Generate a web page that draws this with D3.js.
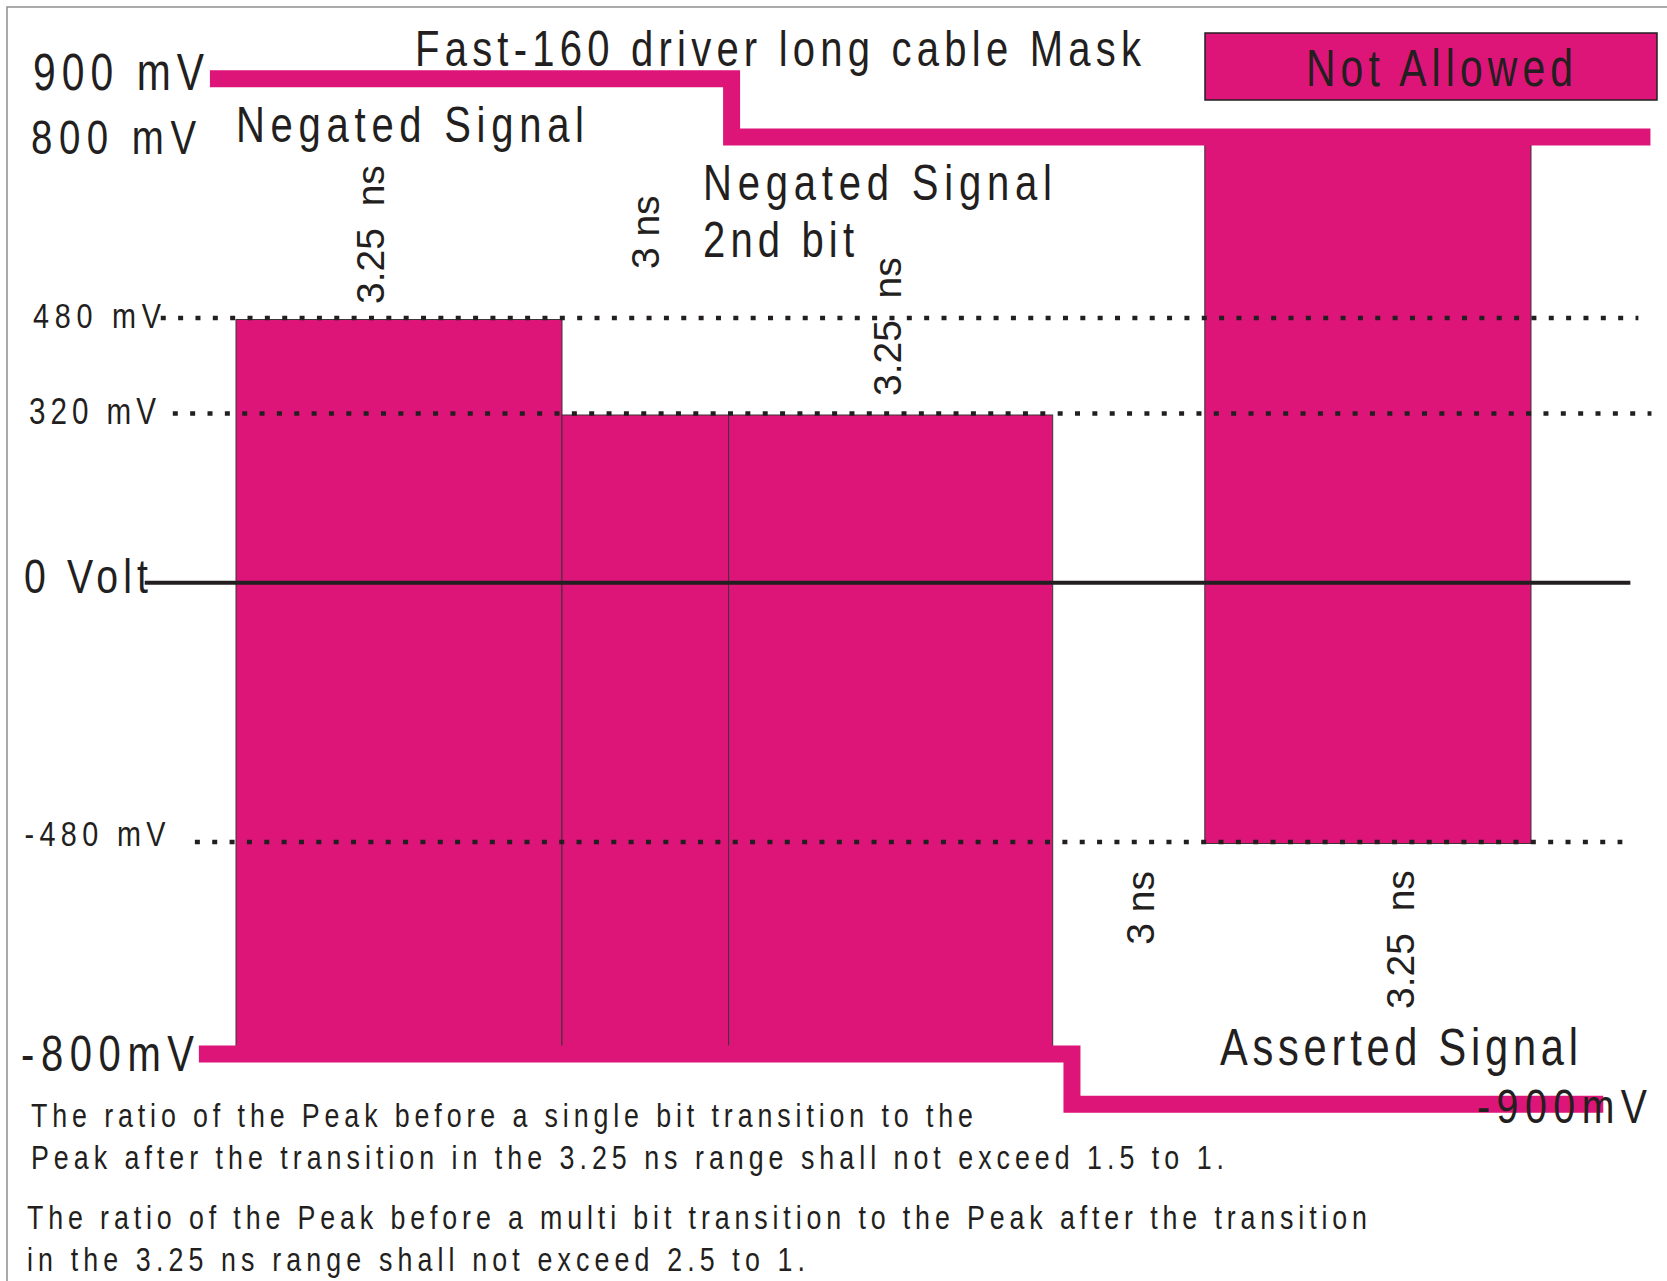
<!DOCTYPE html>
<html>
<head>
<meta charset="utf-8">
<script src="https://cdn.jsdelivr.net/npm/d3@7/dist/d3.min.js"></script>
<style>
  body { margin: 0; background: #fff; }
  svg { display: block; }
</style>
</head>
<body>
<script>
const levels = [900, 800, 480, 320, 0, -480, -800, -900];
const levelLabels = ['900 mV', '800 mV', '480 mV', '320 mV', '0 Volt', '-480 mV', '-800mV', '-900mV'];

const timeBreaks = [0, 3.25, 6.25, 9.5, 12.5, 15.75];

// signal bits and the not-allowed block (ns, mV)
const blockStart = [0, 3.25, 6.25, 12.5];
const blockEnd = [3.25, 6.25, 9.5, 15.75];
const blockHigh = [480, 320, 320, 800];
const blockLow = [-800, -800, -800, -480];

// mask outlines, [ns, mV]
const upperMask = [[-0.26, 900], [6.28, 800], [16.94, 800]];
const lowerMask = [[-0.37, -800], [9.88, -900], [16.47, -900]];

const guideLevels = [480, 320, -480];
const guideStart = [-0.75, -0.63, -0.41];
const guideEnd = [16.82, 16.95, 16.66];
const zeroSpan = [-0.91, 16.74];

const durText = ['3.25\u00a0\u00a0ns', '3 ns', '3.25\u00a0\u00a0ns', '3 ns', '3.25\u00a0\u00a0ns'];
const durAt = [1.34, 4.74, 7.84, 11.22, 14.44];
const durLevel = [629, 633, 468, -578, -626];

const notes = [
  'The ratio of the Peak before a single bit transition to the',
  'Peak after the transition in the 3.25 ns range shall not exceed 1.5 to 1.',
  'The ratio of the Peak before a multi bit transition to the Peak after the transition',
  'in the 3.25 ns range shall not exceed 2.5 to 1.'
];

const width = 1667;
const height = 1281;
const magenta = '#de1578';
const ink = '#231f20';
const font = '"Liberation Sans", Arial, sans-serif';
const squeeze = 0.8; // narrow, letter-spaced lettering

const x = d3.scaleLinear()
  .domain(timeBreaks)
  .range([236, 562, 728.6, 1052.7, 1204.8, 1531]);

const y = d3.scaleLinear()
  .domain(levels)
  .range([78.7, 137, 319.5, 415, 582.7, 843.5, 1054, 1104.3]);

const svg = d3.select('body')
  .append('svg')
  .attr('width', width)
  .attr('height', height)
  .style('font-family', font);

svg.append('rect')
  .attr('x', 7)
  .attr('y', 7)
  .attr('width', width + 20)
  .attr('height', height + 20)
  .attr('fill', 'white')
  .attr('stroke', '#8f8f8f')
  .attr('stroke-width', 1.5);

// blocks
svg.append('g')
  .selectAll('rect')
  .data(d3.range(blockStart.length))
  .join('rect')
    .attr('x', i => x(blockStart[i]))
    .attr('y', i => y(blockHigh[i]))
    .attr('width', i => x(blockEnd[i]) - x(blockStart[i]))
    .attr('height', i => y(blockLow[i]) - y(blockHigh[i]))
    .attr('fill', magenta)
    .attr('stroke', '#3b3536')
    .attr('stroke-width', 1);

// masks
const maskLine = d3.line()
  .x(d => x(d[0]))
  .y(d => y(d[1]))
  .curve(d3.curveStepAfter);

svg.append('g')
  .selectAll('path')
  .data([upperMask, lowerMask])
  .join('path')
    .attr('d', maskLine)
    .attr('fill', 'none')
    .attr('stroke', magenta)
    .attr('stroke-width', 17)
    .attr('stroke-linejoin', 'miter');

// dotted guides
svg.append('g')
  .selectAll('line')
  .data(d3.range(guideLevels.length))
  .join('line')
    .attr('x1', i => x(guideStart[i]))
    .attr('x2', i => x(guideEnd[i]))
    .attr('y1', i => y(guideLevels[i]) - 1.5)
    .attr('y2', i => y(guideLevels[i]) - 1.5)
    .attr('stroke', ink)
    .attr('stroke-width', 4.5)
    .attr('stroke-dasharray', '5 12.35');

svg.append('line')
  .attr('x1', x(zeroSpan[0]))
  .attr('x2', x(zeroSpan[1]))
  .attr('y1', y(0))
  .attr('y2', y(0))
  .attr('stroke', ink)
  .attr('stroke-width', 4);

// level labels
const levelX = [33, 31, 33, 29, 24, 24.5, 21, 1477];
const levelDy = [11.3, 17, 8.5, 9, 10.3, 2.5, 17, 18.7];
const levelSize = [51, 48, 36, 37, 49, 36, 50, 49];
const levelLen = [171, 165, 128, 127, 124, 141, 173, 170];

svg.append('g')
  .selectAll('text')
  .data(d3.range(levels.length))
  .join('text')
    .attr('transform', i => `translate(${levelX[i]},${y(levels[i]) + levelDy[i]}) scale(${squeeze},1)`)
    .attr('font-size', i => levelSize[i])
    .attr('textLength', i => levelLen[i] / squeeze)
    .attr('fill', ink)
    .text(i => levelLabels[i]);

// duration labels
svg.append('g')
  .selectAll('text')
  .data(d3.range(durText.length))
  .join('text')
    .attr('transform', i => `translate(${x(durAt[i]) + 14},${y(durLevel[i])}) rotate(-90)`)
    .attr('text-anchor', 'middle')
    .attr('font-size', 39)
    .attr('fill', ink)
    .text(i => durText[i]);

// annotations
const annotations = [
  { text: 'Fast-160 driver long cable Mask', x: 415, y: 66, size: 50, len: 726 },
  { text: 'Negated Signal', x: 236, y: 142, size: 50, len: 348 },
  { text: 'Negated Signal', x: 703, y: 200, size: 50, len: 349 },
  { text: '2nd bit', x: 703, y: 257, size: 50, len: 151 },
  { text: 'Asserted Signal', x: 1220, y: 1065, size: 52, len: 358 }
];

svg.append('rect')
  .attr('x', 1205)
  .attr('y', 33)
  .attr('width', 452)
  .attr('height', 67)
  .attr('fill', magenta)
  .attr('stroke', ink)
  .attr('stroke-width', 1.5);

annotations.push({ text: 'Not Allowed', x: 1306, y: 86, size: 51, len: 267 });

const noteX = [31, 31, 27, 27];
const noteY = [1127, 1169, 1229, 1271];
const noteLen = [942, 1193, 1340, 778];
notes.forEach((t, i) => annotations.push({ text: t, x: noteX[i], y: noteY[i], size: 33.5, len: noteLen[i] }));

svg.append('g')
  .selectAll('text')
  .data(annotations)
  .join('text')
    .attr('transform', d => `translate(${d.x},${d.y}) scale(${squeeze},1)`)
    .attr('font-size', d => d.size)
    .attr('textLength', d => d.len / squeeze)
    .attr('fill', ink)
    .text(d => d.text);
</script>
</body>
</html>
